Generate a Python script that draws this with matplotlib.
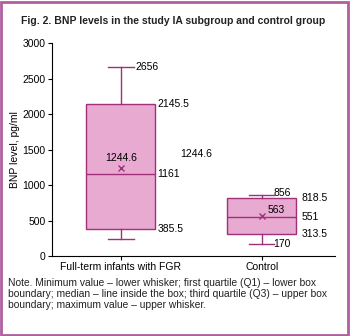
import matplotlib.pyplot as plt
from matplotlib.patches import Rectangle

plt.rcParams['font.family'] = ['Liberation Sans', 'DejaVu Sans']

groups = ['Full-term infants with FGR', 'Control']
mins = [240, 170]
q1s = [385.5, 313.5]
medians = [1161, 551]
q3s = [2145.5, 818.5]
maxs = [2656, 856]
means = [1244.6, 563]

fill = '#e8aad0'
edge = '#a0307a'

fig = plt.figure(figsize=(3.5, 3.36), dpi=100)
ax = fig.add_axes([0.1486, 0.238, 0.8084, 0.634])

stats = []
for i in range(2):
    stats.append({'whislo': mins[i], 'q1': q1s[i], 'med': medians[i],
                  'q3': q3s[i], 'whishi': maxs[i], 'mean': means[i],
                  'fliers': [], 'label': groups[i]})

ax.bxp(stats, positions=[1, 2], widths=0.49, showmeans=True, patch_artist=True,
       boxprops=dict(facecolor=fill, edgecolor=edge, linewidth=1),
       medianprops=dict(color=edge, linewidth=1),
       whiskerprops=dict(color=edge, linewidth=1),
       capprops=dict(color=edge, linewidth=1), capwidths=0.18,
       meanprops=dict(marker='x', markeredgecolor=edge, markersize=5,
                      markeredgewidth=1))

ax.set_xlim(0.51, 2.52)
ax.set_ylim(0, 3000)
ax.set_yticks([0, 500, 1000, 1500, 2000, 2500, 3000])
ax.spines['top'].set_visible(False)
ax.spines['right'].set_visible(False)
ax.tick_params(labelsize=7.5, length=3, width=0.8, pad=1.5)
ax.set_ylabel('BNP level, pg/ml', fontsize=7.5, labelpad=2)

fs = 7.5
# group 1 labels
ax.text(1.1, maxs[0], str(maxs[0]), fontsize=fs, va='center')
ax.text(1.26, q3s[0], '2145.5', fontsize=fs, va='center')
ax.text(1.26, medians[0], str(medians[0]), fontsize=fs, va='center')
ax.text(1.26, q1s[0], '385.5', fontsize=fs, va='center')
ax.text(1, means[0] + 60, '1244.6', fontsize=fs, ha='center', va='bottom')
ax.text(1.42, 1440, '1244.6', fontsize=fs, va='center')
# group 2 labels
ax.text(2.08, maxs[1] + 30, str(maxs[1]), fontsize=fs, va='center')
ax.text(2.28, q3s[1], '818.5', fontsize=fs, va='center')
ax.text(2.28, medians[1], str(medians[1]), fontsize=fs, va='center')
ax.text(2.28, q1s[1], '313.5', fontsize=fs, va='center')
ax.text(2.08, mins[1], str(mins[1]), fontsize=fs, va='center')
ax.text(2.04, means[1] + 20, str(means[1]), fontsize=fs, va='bottom')

fig.text(0.06, 1 - 21 / 336, 'Fig. 2. BNP levels in the study IA subgroup and control group',
         fontsize=7.5, fontweight='bold', va='center', color='#222222')
fig.text(0.022, 1 - 278 / 336,
         'Note. Minimum value – lower whisker; first quartile (Q1) – lower box\n'
         'boundary; median – line inside the box; third quartile (Q3) – upper box\n'
         'boundary; maximum value – upper whisker.',
         fontsize=7.4, va='top', linespacing=1.12, color='#222222')

fig.patches.append(Rectangle((0.004, 0.004), 0.991, 0.99, transform=fig.transFigure,
                             fill=False, edgecolor='#b0609e', linewidth=2))

fig.savefig('out.png', dpi=100)
